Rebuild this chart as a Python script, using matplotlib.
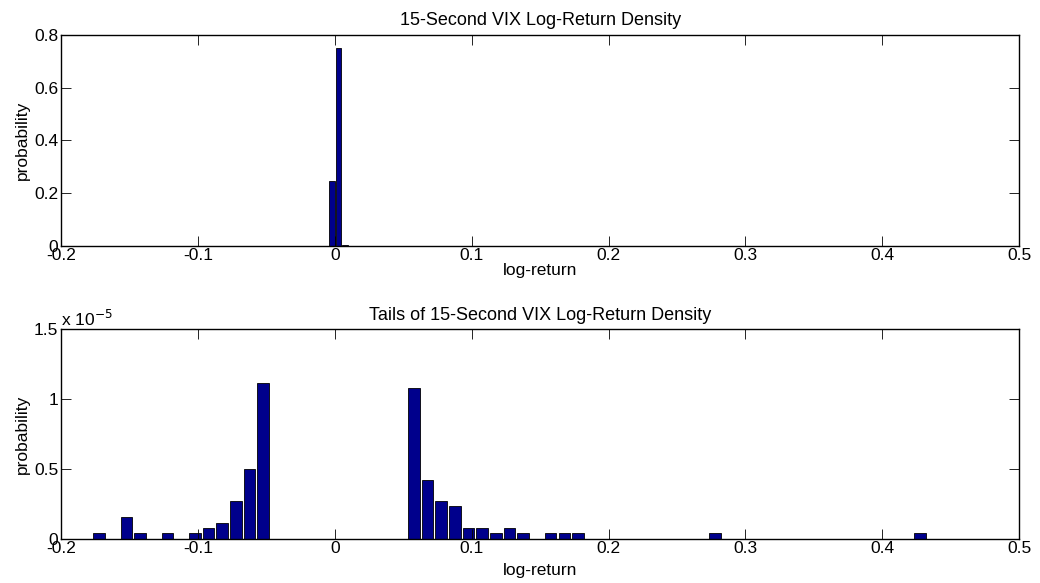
import matplotlib
matplotlib.use('Agg')
import matplotlib.pyplot as plt
import numpy as np

plt.rcParams['font.family'] = ['Liberation Sans', 'DejaVu Sans']
plt.rcParams['font.size'] = 12.5

bar_color = '#00008c'

# top panel: full density, bins of 0.005
top_start = -0.1723
top_step = 0.005
top_nbins = 121
top_vals = np.zeros(top_nbins)
top_vals[34] = 0.245
top_vals[35] = 0.752
top_vals[36] = 0.003

# bottom panel: tails only, bins of 0.01 (values in probability)
bot_start = -0.1723
bot_step = 0.01
bot_vals = np.array([
    0.0385, 0, 0.154, 0.0385, 0, 0.0385, 0, 0.0385, 0.077, 0.1155,
    0.27, 0.50, 1.117, 0, 0, 0, 0, 0, 0, 0,
    0, 0, 0, 1.078, 0.4235, 0.27, 0.231, 0.077, 0.077, 0.0385,
    0.077, 0.0385, 0, 0.0385, 0.0385, 0.0385, 0, 0, 0, 0,
    0, 0, 0, 0, 0, 0.0385, 0, 0, 0, 0,
    0, 0, 0, 0, 0, 0, 0, 0, 0, 0,
    0.0385]) * 1e-5

xticks = [-0.2, -0.1, 0, 0.1, 0.2, 0.3, 0.4, 0.5]
xticklabels = ['-0.2', '-0.1', '0', '0.1', '0.2', '0.3', '0.4', '0.5']


def style_axes(ax):
    ax.set_xlim(-0.2, 0.5)
    ax.set_xticks(xticks)
    ax.set_xticklabels(xticklabels)
    ax.tick_params(direction='in', top=True, right=True, length=7, width=0.6)
    ax.tick_params(axis='x', pad=1.5)
    ax.tick_params(axis='y', pad=2)
    for s in ax.spines.values():
        s.set_linewidth(1.0)


fig = plt.figure(figsize=(10.4, 5.83), dpi=100)

ax1 = fig.add_axes([0.0587, 0.5786, 0.9213, 0.3614])
centers = top_start + top_step * np.arange(top_nbins)
ax1.bar(centers, top_vals, width=top_step * 0.85, color=bar_color,
        edgecolor='black', linewidth=0.6)
style_axes(ax1)
ax1.set_ylim(0, 0.8)
ax1.set_yticks([0, 0.2, 0.4, 0.6, 0.8])
ax1.set_yticklabels(['0', '0.2', '0.4', '0.6', '0.8'])
ax1.set_title('15-Second VIX Log-Return Density', fontsize=13, pad=7)
ax1.set_xlabel('log-return', labelpad=0)
ax1.set_ylabel('probability', labelpad=3)

ax2 = fig.add_axes([0.0587, 0.076, 0.9213, 0.3592])
centers2 = bot_start + bot_step * np.arange(len(bot_vals))
ax2.bar(centers2, bot_vals, width=bot_step * 0.85, color=bar_color,
        edgecolor='black', linewidth=0.6)
style_axes(ax2)
ax2.set_ylim(0, 1.5e-5)
ax2.set_yticks([0, 0.5e-5, 1e-5, 1.5e-5])
ax2.set_yticklabels(['0', '0.5', '1', '1.5'])
ax2.text(0.0, 1.0, r'x 10$^{-5}$', transform=ax2.transAxes, ha='left', va='bottom')
ax2.set_title('Tails of 15-Second VIX Log-Return Density', fontsize=13, pad=7)
ax2.set_xlabel('log-return', labelpad=5)
ax2.set_ylabel('probability', labelpad=3)

fig.savefig('out.png', dpi=100)
